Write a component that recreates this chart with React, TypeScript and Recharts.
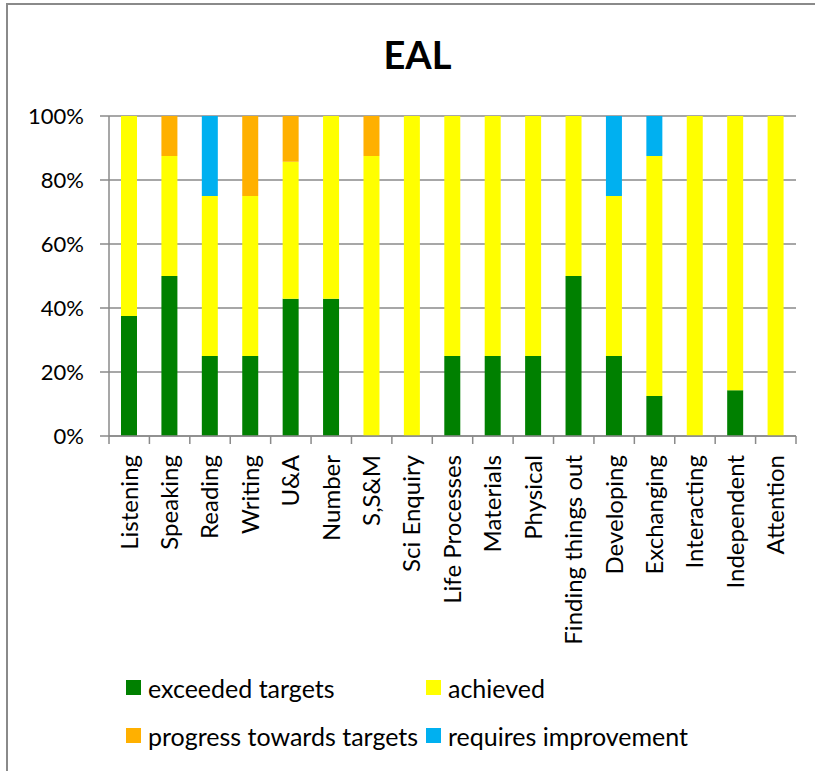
import { BarChart, Bar, XAxis, YAxis, CartesianGrid, Legend } from "recharts";

const categories = [
  "Listening", "Speaking", "Reading", "Writing", "U&A", "Number", "S,S&M",
  "Sci Enquiry", "Life Processes", "Materials", "Physical", "Finding things out",
  "Developing", "Exchanging", "Interacting", "Independent", "Attention",
];

// percentages per category, bottom to top of each stack
const exceededTargets = [37.5, 50, 25, 25, 42.9, 42.9, 0, 0, 25, 25, 25, 50, 25, 12.5, 0, 14.3, 0];
const achieved = [62.5, 37.5, 50, 50, 42.8, 57.1, 87.5, 100, 75, 75, 75, 50, 50, 75, 100, 85.7, 100];
const progressTowardsTargets = [0, 12.5, 0, 25, 14.3, 0, 12.5, 0, 0, 0, 0, 0, 0, 0, 0, 0, 0];
const requiresImprovement = [0, 0, 25, 0, 0, 0, 0, 0, 0, 0, 0, 0, 25, 12.5, 0, 0, 0];

const seriesKeys = ["exceeded", "achieved", "progress", "improvement"];
const seriesNames = ["exceeded targets", "achieved", "progress towards targets", "requires improvement"];
const seriesColors = ["#008000", "#FFFF00", "#FFB000", "#00B0F0"];
const yTicks = [0, 20, 40, 60, 80, 100];

const data = categories.map((name, i) => ({
  name,
  exceeded: exceededTargets[i],
  achieved: achieved[i],
  progress: progressTowardsTargets[i],
  improvement: requiresImprovement[i],
}));

const axisGray = "#8a8a8a";

const CategoryTick = (props: any) => {
  const { x, y, payload, index, visibleTicksCount } = props;
  const half = payload?.offset ?? 0;
  const isLast = index === visibleTicksCount - 1;
  return (
    <g>
      <line x1={x - half} x2={x - half} y1={y - 8} y2={y} stroke={axisGray} strokeWidth={1.5} />
      {isLast && (
        <line x1={x + half} x2={x + half} y1={y - 8} y2={y} stroke={axisGray} strokeWidth={1.5} />
      )}
      <text
        x={0}
        y={0}
        dy="0.35em"
        textAnchor="end"
        fill="#000"
        fontSize={24}
        transform={`translate(${x},${y + 11}) rotate(-90)`}
      >
        {payload.value}
      </text>
    </g>
  );
};

const renderLegend = () => (
  <div
    style={{
      display: "grid",
      gridTemplateColumns: "300px auto",
      rowGap: 23,
      fontFamily: "Lato",
      fontSize: 25,
      color: "#000",
    }}
  >
    {[0, 1, 2, 3].map((i) => (
      <div key={seriesKeys[i]} style={{ display: "flex", alignItems: "center", height: 25, whiteSpace: "nowrap" }}>
        <span
          style={{
            display: "inline-block",
            flex: "0 0 auto",
            width: 15,
            height: 15,
            background: seriesColors[i],
            marginRight: 7,
          }}
        />
        <span>{seriesNames[i]}</span>
      </div>
    ))}
  </div>
);

export default function App() {
  return (
    <div
      style={{
        position: "absolute",
        left: 0,
        top: 0,
        width: 815,
        height: 771,
        background: "#fff",
        fontFamily: "Lato",
        overflow: "hidden",
      }}
    >
      <div
        style={{
          position: "absolute",
          left: 6,
          top: 3,
          width: 809,
          height: 768,
          borderLeft: `2px solid ${axisGray}`,
          borderTop: `2px solid ${axisGray}`,
          boxSizing: "border-box",
        }}
      />
      <div
        style={{
          position: "absolute",
          left: 0,
          top: 35,
          width: 835,
          textAlign: "center",
          fontWeight: "bold",
          fontSize: 38,
          lineHeight: "38px",
          color: "#000",
        }}
      >
        EAL
      </div>
      <div style={{ position: "absolute", left: 0, top: 0 }}>
        <BarChart
          width={815}
          height={771}
          data={data}
          margin={{ top: 116, right: 19, left: 0, bottom: 0 }}
          barSize={16}
        >
          <CartesianGrid vertical={false} stroke={axisGray} strokeWidth={1.5} />
          <XAxis
            dataKey="name"
            height={335}
            interval={0}
            tickLine={false}
            tickSize={8}
            tickMargin={0}
            axisLine={{ stroke: axisGray, strokeWidth: 1.5 }}
            tick={<CategoryTick />}
          />
          <YAxis
            width={109}
            domain={[0, 100]}
            ticks={yTicks}
            allowDataOverflow
            tickSize={9}
            tickMargin={16}
            tickFormatter={(v: number) => `${v}%`}
            axisLine={{ stroke: axisGray, strokeWidth: 1.5 }}
            tickLine={{ stroke: axisGray, strokeWidth: 1.5 }}
            tick={{ fill: "#000", fontSize: 22 }}
          />
          <Legend
            verticalAlign="middle"
            content={renderLegend}
            wrapperStyle={{ left: 126, top: 675, width: 660 }}
          />
          {seriesKeys.map((key, i) => (
            <Bar
              key={key}
              dataKey={key}
              name={seriesNames[i]}
              stackId="a"
              fill={seriesColors[i]}
              isAnimationActive={false}
            />
          ))}
        </BarChart>
      </div>
    </div>
  );
}
